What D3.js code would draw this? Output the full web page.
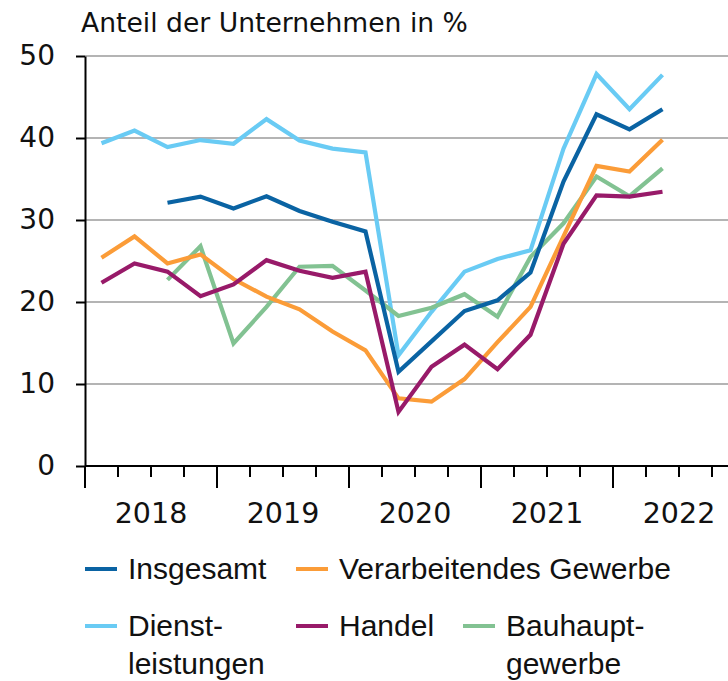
<!DOCTYPE html>
<html>
<head>
<meta charset="utf-8">
<script src="https://cdn.jsdelivr.net/npm/d3@7"></script>
<style>
  html, body { margin: 0; padding: 0; background: #fff; }
  svg { display: block; }
</style>
</head>
<body>
<svg id="chart"></svg>
<script>
(function () {
  // Data
  var years = ['2018', '2019', '2020', '2021', '2022']
  var quarters = []
  years.forEach(function (y) {
    for (var q = 1; q <= 4; q++) quarters.push(y + 'Q' + q)
  })
  var yTicks = [0, 10, 20, 30, 40, 50]

  var insgesamt = [null, null, 32.1, 32.85, 31.4, 32.9, 31.1, 29.8, 28.6, 11.5, 15.2, 18.9, 20.2, 23.6, 34.7, 42.9, 41.05, 43.5]
  var verarbeitendes = [25.4, 28.0, 24.7, 25.8, 22.8, 20.65, 19.1, 16.4, 14.1, 8.25, 7.85, 10.6, 15.1, 19.4, 28.0, 36.6, 35.9, 39.8]
  var dienstleistungen = [39.35, 40.9, 38.9, 39.75, 39.3, 42.3, 39.7, 38.7, 38.25, 13.5, 18.8, 23.7, 25.25, 26.3, 38.7, 47.8, 43.5, 47.7]
  var handel = [22.35, 24.7, 23.7, 20.7, 22.15, 25.1, 23.8, 22.95, 23.7, 6.6, 12.1, 14.8, 11.8, 16.0, 27.1, 33.0, 32.85, 33.45]
  var bauhaupt = [null, null, 22.7, 26.8, 14.95, 19.4, 24.3, 24.4, 21.4, 18.3, 19.3, 20.95, 18.2, 25.5, 29.6, 35.3, 32.9, 36.3]

  var series = [
    { name: ['Insgesamt'], values: insgesamt, color: '#0a63a3' },
    { name: ['Verarbeitendes Gewerbe'], values: verarbeitendes, color: '#fb9c38' },
    { name: ['Dienst-', 'leistungen'], values: dienstleistungen, color: '#69cbf4' },
    { name: ['Handel'], values: handel, color: '#981a69' },
    { name: ['Bauhaupt-', 'gewerbe'], values: bauhaupt, color: '#82c292' }
  ]
  // draw order as in the picture (light blue behind)
  var drawOrder = [2, 4, 1, 3, 0]

  var WIDTH = 728
  var HEIGHT = 681
  var LEFT = 85
  var TOP = 56
  var BOTTOM = 466

  var svg = d3.select('#chart')
    .attr('width', WIDTH)
    .attr('height', HEIGHT)

  var x = d3.scaleBand()
    .domain(quarters)
    .range([LEFT, LEFT + 33 * quarters.length])

  var y = d3.scaleLinear()
    .domain([0, 50])
    .range([BOTTOM, TOP])

  // Gridlines
  svg.append('g')
    .selectAll('line')
    .data(yTicks.filter(function (d) { return d > 0 }))
    .enter().append('line')
    .attr('x1', LEFT)
    .attr('x2', WIDTH)
    .attr('y1', function (d) { return y(d) })
    .attr('y2', function (d) { return y(d) })
    .attr('stroke', '#b4b4b4')
    .attr('stroke-width', 2)

  // Title
  svg.append('text')
    .attr('x', 81)
    .attr('y', 32)
    .style('font-family', 'DejaVu Sans')
    .style('font-size', '26.6px')
    .attr('fill', '#111')
    .text('Anteil der Unternehmen in %')

  // Y axis
  var yAxis = svg.append('g')
    .attr('transform', 'translate(' + LEFT + ',0)')
    .call(d3.axisLeft(y).tickValues(yTicks).tickSize(9).tickPadding(21).tickSizeOuter(0))
  yAxis.select('.domain').attr('stroke', '#000').attr('stroke-width', 2)
  yAxis.selectAll('.tick line').attr('stroke', '#000').attr('stroke-width', 2)
  yAxis.selectAll('.tick text')
    .style('font-family', 'DejaVu Sans')
    .style('font-size', '28px')
    .attr('fill', '#111')

  // X axis: quarter ticks, longer at year boundaries
  var bounds = quarters.map(function (q, i) { return { pos: x(q), year: i % 4 === 0 } })
  bounds.push({ pos: x(quarters[quarters.length - 1]) + x.bandwidth(), year: true })

  var xAxis = svg.append('g')
  xAxis.append('line')
    .attr('x1', LEFT)
    .attr('x2', x.range()[1])
    .attr('y1', BOTTOM)
    .attr('y2', BOTTOM)
    .attr('stroke', '#000')
    .attr('stroke-width', 2)
  xAxis.selectAll('line.tick')
    .data(bounds)
    .enter().append('line')
    .attr('class', 'tick')
    .attr('x1', function (d) { return d.pos })
    .attr('x2', function (d) { return d.pos })
    .attr('y1', BOTTOM)
    .attr('y2', function (d) { return BOTTOM + (d.year ? 22 : 11) })
    .attr('stroke', '#000')
    .attr('stroke-width', 2)
  xAxis.selectAll('text')
    .data(years)
    .enter().append('text')
    .attr('x', function (d) { return x(d + 'Q1') + 2 * x.bandwidth() })
    .attr('y', 523)
    .attr('text-anchor', 'middle')
    .style('font-family', 'DejaVu Sans')
    .style('font-size', '28.5px')
    .attr('fill', '#111')
    .text(function (d) { return d })

  // Lines
  var line = d3.line()
    .defined(function (d) { return d != null })
    .x(function (d, i) { return x(quarters[i]) + x.bandwidth() / 2 })
    .y(function (d) { return y(d) })

  svg.append('g')
    .selectAll('path')
    .data(drawOrder.map(function (i) { return series[i] }))
    .enter().append('path')
    .attr('d', function (d) { return line(d.values) })
    .attr('fill', 'none')
    .attr('stroke', function (d) { return d.color })
    .attr('stroke-width', 4.2)

  // Legend
  var legendPos = [
    { x: 85, y: 579 },
    { x: 296, y: 579 },
    { x: 85, y: 636 },
    { x: 296, y: 636 },
    { x: 463, y: 636 }
  ]
  var item = svg.append('g')
    .selectAll('g')
    .data(series)
    .enter().append('g')
    .attr('transform', function (d, i) { return 'translate(' + legendPos[i].x + ',' + legendPos[i].y + ')' })

  item.append('line')
    .attr('x1', 0)
    .attr('x2', 32)
    .attr('y1', -10)
    .attr('y2', -10)
    .attr('stroke', function (d) { return d.color })
    .attr('stroke-width', 4)

  item.append('text')
    .style('font-family', 'Liberation Sans')
    .style('font-size', '30px')
    .attr('fill', '#111')
    .selectAll('tspan')
    .data(function (d) { return d.name })
    .enter().append('tspan')
    .attr('x', 43)
    .attr('dy', function (d, i) { return i ? 38 : 0 })
    .text(function (d) { return d })
})()
</script>
</body>
</html>
